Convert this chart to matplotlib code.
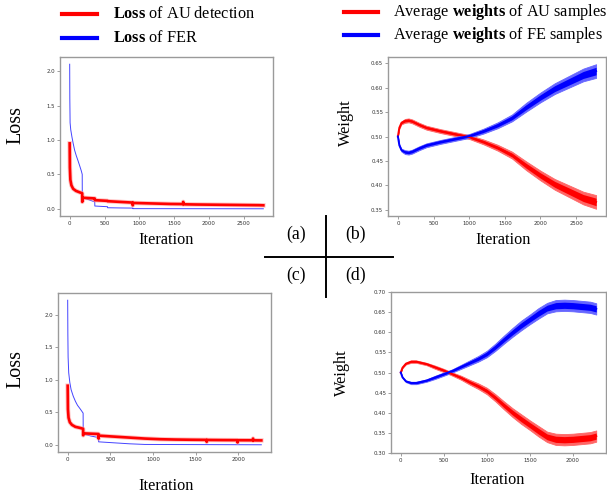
import matplotlib
matplotlib.use('Agg')
from matplotlib import pyplot as plt
from matplotlib.lines import Line2D

plt.rcParams['mathtext.fontset'] = 'custom'
plt.rcParams['mathtext.rm'] = 'Liberation Serif'
plt.rcParams['mathtext.bf'] = 'Liberation Serif:bold'

# (a) loss curves, first run
a_au_it = [0, 3, 10, 25, 50, 90, 140, 180, 181, 182, 360, 362, 543, 545, 724, 905, 906, 907,
           1086, 1267, 1448, 1629, 1630, 1631, 1810, 1991, 2172, 2353, 2534, 2715, 2780]
a_au = [0.95, 0.60, 0.42, 0.34, 0.29, 0.26, 0.24, 0.225, 0.10, 0.16, 0.15, 0.125, 0.115, 0.11,
        0.10, 0.09, 0.05, 0.085, 0.08, 0.075, 0.07, 0.068, 0.10, 0.065, 0.062, 0.06, 0.058,
        0.056, 0.054, 0.052, 0.05]
a_fer_it = [0, 2, 6, 15, 33, 50, 71, 95, 119, 145, 167, 180, 181, 250, 360, 361, 450, 543, 544,
            724, 905, 906, 2780]
a_fer = [2.10, 1.60, 1.25, 1.15, 1.04, 0.95, 0.85, 0.77, 0.70, 0.62, 0.55, 0.50, 0.17, 0.14,
         0.10, 0.04, 0.035, 0.03, 0.015, 0.012, 0.01, 0.002, 0.0]

# (c) loss curves, second run
c_au_it = [0, 3, 10, 25, 50, 90, 140, 181, 182, 183, 362, 363, 364, 543, 724, 905, 1086, 1267,
           1448, 1629, 1630, 1631, 1810, 1991, 1992, 1993, 2172, 2173, 2174, 2270]
c_au = [0.91, 0.55, 0.42, 0.35, 0.31, 0.28, 0.265, 0.25, 0.15, 0.18, 0.17, 0.10, 0.145, 0.13,
        0.115, 0.10, 0.09, 0.085, 0.082, 0.08, 0.05, 0.079, 0.077, 0.076, 0.04, 0.075, 0.074,
        0.10, 0.073, 0.072]
c_fer_it = [0, 2, 5, 12, 25, 40, 65, 91, 115, 138, 160, 181, 182, 270, 362, 363, 543, 724, 905,
            2270]
c_fer = [2.22, 1.70, 1.35, 1.11, 0.96, 0.85, 0.75, 0.67, 0.61, 0.57, 0.53, 0.49, 0.17, 0.14,
         0.115, 0.05, 0.035, 0.02, 0.01, 0.005]

# (b) average weights, first run
b_it = [0, 20, 50, 100, 150, 200, 300, 400, 600, 800, 1000, 1200, 1400, 1600, 1800, 2000,
        2200, 2400, 2600, 2780]
b_au = [0.500, 0.518, 0.528, 0.532, 0.533, 0.531, 0.524, 0.518, 0.511, 0.505, 0.499, 0.489,
        0.477, 0.462, 0.440, 0.420, 0.402, 0.388, 0.374, 0.366]
b_fe = [0.500, 0.482, 0.472, 0.468, 0.467, 0.469, 0.476, 0.482, 0.489, 0.495, 0.501, 0.511,
        0.523, 0.538, 0.560, 0.580, 0.598, 0.612, 0.626, 0.634]
b_spread = [0.0, 0.002, 0.003, 0.004, 0.004, 0.004, 0.004, 0.004, 0.004, 0.004, 0.004, 0.005,
            0.006, 0.007, 0.009, 0.010, 0.011, 0.012, 0.013, 0.014]

# (d) average weights, second run
d_it = [0, 20, 60, 120, 180, 300, 400, 500, 600, 700, 800, 900, 1000, 1100, 1200, 1300, 1400,
        1500, 1600, 1700, 1800, 1900, 2000, 2100, 2200, 2270]
d_au = [0.500, 0.512, 0.522, 0.527, 0.527, 0.521, 0.513, 0.505, 0.496, 0.487, 0.476, 0.466,
        0.454, 0.437, 0.418, 0.400, 0.384, 0.369, 0.354, 0.340, 0.334, 0.333, 0.334, 0.336,
        0.338, 0.342]
d_fe = [0.500, 0.488, 0.478, 0.474, 0.474, 0.480, 0.488, 0.496, 0.504, 0.514, 0.524, 0.534,
        0.546, 0.563, 0.582, 0.600, 0.617, 0.632, 0.647, 0.660, 0.666, 0.667, 0.666, 0.664,
        0.662, 0.658]
d_spread = [0.0, 0.001, 0.002, 0.003, 0.003, 0.003, 0.004, 0.004, 0.004, 0.005, 0.006, 0.007,
            0.008, 0.009, 0.010, 0.011, 0.012, 0.012, 0.013, 0.013, 0.014, 0.014, 0.014, 0.014,
            0.014, 0.014]

W, H = 607, 494
serif = 'Liberation Serif'


def fx(x):
    return x / W


def fy(y):
    return 1 - y / H


def style_axes(ax, yfmt):
    for sp in ax.spines.values():
        sp.set_color('#9a9a9a')
        sp.set_linewidth(1.0)
    ax.tick_params(labelsize=3.9, labelcolor='#333333', color='#777777', length=2, width=0.5,
                   pad=1.5)
    ax.yaxis.set_major_formatter(plt.FormatStrFormatter(yfmt))


def loss_plot(ax, au_it, au, fer_it, fer):
    ax.plot(fer_it, fer, color='#4444ff', linewidth=0.7)
    ax.plot(au_it, au, color='#ff9999', linewidth=3.2, alpha=0.6)
    ax.plot(au_it, au, color='red', linewidth=1.9)
    ax.set_yticks([0.0, 0.5, 1.0, 1.5, 2.0])
    style_axes(ax, '%.1f')


def weight_plot(ax, it, au, fe, spread):
    for vals, col, light in [(au, 'red', '#ff6666'), (fe, 'blue', '#6666ff')]:
        lo = [v - s for v, s in zip(vals, spread)]
        hi = [v + s for v, s in zip(vals, spread)]
        ax.fill_between(it, lo, hi, color=light, linewidth=0.6, edgecolor=light)
        lo2 = [v - 0.55 * s for v, s in zip(vals, spread)]
        hi2 = [v + 0.55 * s for v, s in zip(vals, spread)]
        ax.fill_between(it, lo2, hi2, color=col, linewidth=0)
        ax.plot(it, vals, color=col, linewidth=1.4)
    style_axes(ax, '%.2f')


fig = plt.figure(figsize=(6.07, 4.94), dpi=100)

ax_a = fig.add_axes([fx(60), fy(216), fx(273 - 60), (216 - 57) / H])
loss_plot(ax_a, a_au_it, a_au, a_fer_it, a_fer)
ax_a.set_xticks([0, 500, 1000, 1500, 2000, 2500])

ax_b = fig.add_axes([fx(388), fy(216), fx(606 - 388), (216 - 57) / H])
weight_plot(ax_b, b_it, b_au, b_fe, b_spread)
ax_b.set_yticks([0.35, 0.40, 0.45, 0.50, 0.55, 0.60, 0.65])
ax_b.set_xticks([0, 500, 1000, 1500, 2000, 2500])

ax_c = fig.add_axes([fx(58), fy(452), fx(271 - 58), (452 - 293) / H])
loss_plot(ax_c, c_au_it, c_au, c_fer_it, c_fer)
ax_c.set_xticks([0, 500, 1000, 1500, 2000])

ax_d = fig.add_axes([fx(391), fy(453), fx(606 - 391), (453 - 292) / H])
weight_plot(ax_d, d_it, d_au, d_fe, d_spread)
ax_d.set_yticks([0.30, 0.35, 0.40, 0.45, 0.50, 0.55, 0.60, 0.65, 0.70])
ax_d.set_xticks([0, 500, 1000, 1500, 2000])

# axis titles
fs = 11.7
fig.text(fx(16), fy(125), 'Loss', rotation=90, fontsize=14.5, family=serif, ha='center', va='center')
fig.text(fx(16), fy(369), 'Loss', rotation=90, fontsize=14.5, family=serif, ha='center', va='center')
fig.text(fx(346), fy(123), 'Weight', rotation=90, fontsize=fs, family=serif, ha='center', va='center')
fig.text(fx(342), fy(373), 'Weight', rotation=90, fontsize=fs, family=serif, ha='center', va='center')
for x, y in [(166, 240), (503, 240), (166, 486), (497, 480)]:
    fig.text(fx(x), fy(y), 'Iteration', fontsize=fs, family=serif, ha='center', va='center')

# legends
legend_items = [
    (62, 97, 14, 113, 'red', r'$\mathbf{Loss}$ of AU detection'),
    (62, 97, 38, 113, 'blue', r'$\mathbf{Loss}$ of FER'),
    (344, 378, 12, 393, 'red', r'Average $\mathbf{weights}$ of AU samples'),
    (344, 378, 35, 393, 'blue', r'Average $\mathbf{weights}$ of FE samples'),
]
for x0, x1, y, tx, col, label in legend_items:
    fig.add_artist(Line2D([fx(x0), fx(x1)], [fy(y), fy(y)], color=col, linewidth=3,
                          transform=fig.transFigure))
    fig.text(fx(tx), fy(y), label, fontsize=fs, family=serif, ha='left', va='center')

# panel key in the middle
fig.add_artist(Line2D([fx(325.5), fx(325.5)], [fy(216), fy(297)], color='black', linewidth=1.4,
                      transform=fig.transFigure))
fig.add_artist(Line2D([fx(265), fx(393)], [fy(256.5), fy(256.5)], color='black', linewidth=1.4,
                      transform=fig.transFigure))
for x, y, s in [(296, 234, '(a)'), (356, 234, '(b)'), (296, 275, '(c)'), (356, 275, '(d)')]:
    fig.text(fx(x), fy(y), s, fontsize=12.8, family=serif, ha='center', va='center')

fig.savefig('out.png', dpi=100)
